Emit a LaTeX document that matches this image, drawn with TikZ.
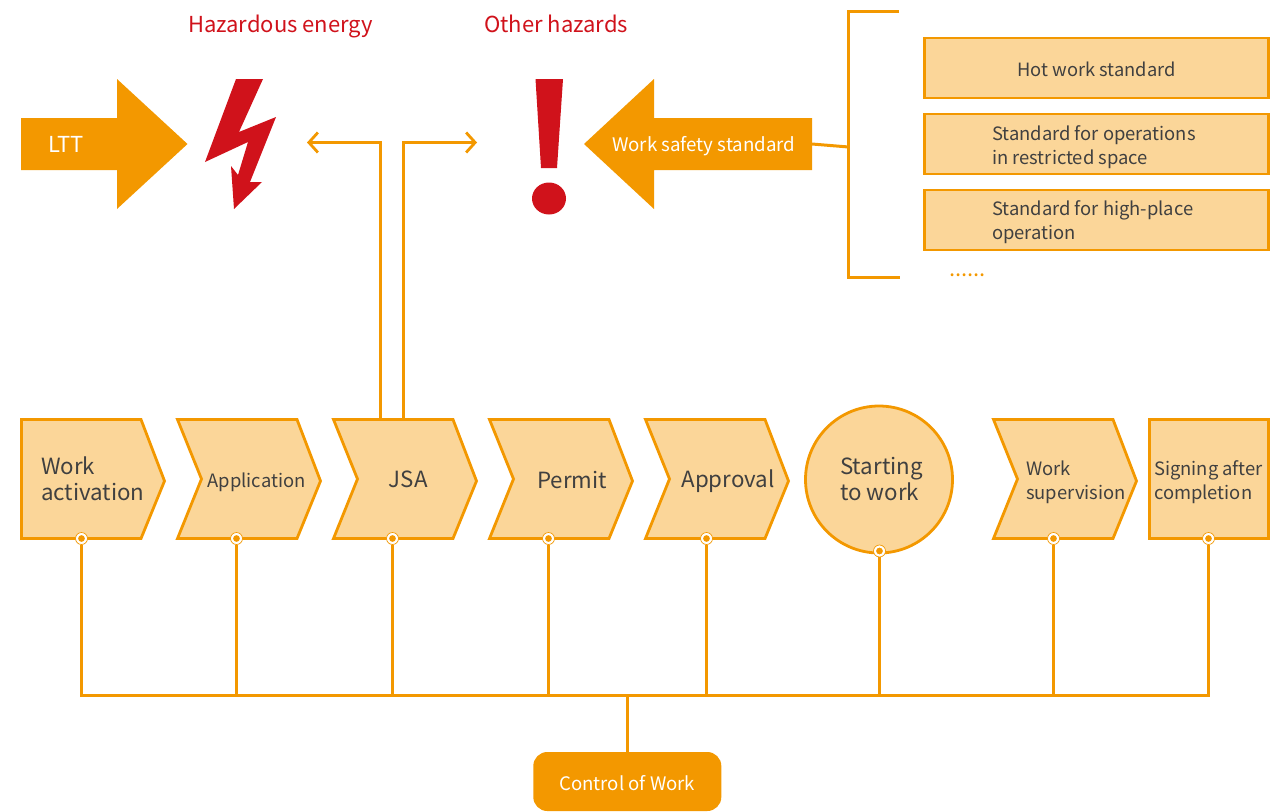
\documentclass[tikz,border=0pt]{standalone}
\usepackage{fontspec}
\setmainfont{Noto Sans CJK SC}
\usetikzlibrary{arrows.meta}
\definecolor{org}{HTML}{F39800}
\definecolor{pale}{HTML}{FBD699}
\definecolor{hazred}{HTML}{D0121B}
\definecolor{ink}{HTML}{404040}
\newcommand{\fs}[1]{\fontsize{#1}{#1}\selectfont}
\tikzset{
  lbl/.style={inner sep=0pt,text=ink,align=left,anchor=west},
  shapeb/.style={draw=org,fill=pale,line width=2.8pt,line join=miter},
  wire/.style={draw=org,line width=3pt},
  solid orange/.style={fill=org,draw=none},
  solid red/.style={fill=hazred,draw=none},
  joint/.style={circle,inner sep=0pt,minimum size=8.5pt,fill=org,draw=white,line width=1.4pt},
  ring/.style={circle,inner sep=0pt,minimum size=12pt,fill=white,draw=org,line width=0.7pt},
  barb/.style={-{Straight Barb[length=9pt,width=20pt,line width=2.8pt]}},
  stdbox/.style={rectangle,draw=org,fill=pale,line width=2.8pt,minimum width=344.5pt,minimum height=60pt,inner sep=0pt},
}
\begin{document}
\begin{tikzpicture}[x=1pt,y=-1pt]
\useasboundingbox (0,0) rectangle (1284,811);
% titles
\node[inner sep=0pt,text=hazred,font=\fs{22}] (hz) at (280.7,26.5) {Hazardous energy};
\node[inner sep=0pt,text=hazred,font=\fs{22}] (oh) at (556,24) {Other hazards};
% LTT arrow
\path[solid orange] (21,118)--(117,118)--(117,79)--(187.5,144)--(117,209)--(117,170)--(21,170)--cycle;
\node[inner sep=0pt,anchor=west,text=white,font=\fs{22}] (ltt) at (48,144) {LTT};
% bolt
\path[solid red] (236,79)--(263,79)--(239,132)--(276,117)--(250,182)--(262,182)--(234,209)--(231,166)--(238,175)--(248,142)--(205,162)--cycle;
% exclamation
\path[solid red] (535.5,79)--(563,79)--(557,168)--(541,168)--cycle;
\path[solid red] (549,198.5) ellipse [x radius=17,y radius=16];
% safety arrow
\path[solid orange] (812,118)--(654,118)--(654,79)--(584,144)--(654,209)--(654,170)--(812,170)--cycle;
\node[inner sep=0pt,text=white,font=\fs{18.7}] (wss) at (703.8,146) {Work safety standard};
% bracket
\coordinate (brt) at (899,11);
\coordinate (brb) at (900,277);
\coordinate (brm) at (848.5,147);
\coordinate (wssr) at (812,144);
\draw[wire] (brt) -- (848.5,11) -- (848.5,277) -- (brb);
\draw[wire] (wssr) -- (brm);
% standards
\node[stdbox] (b1) at (1096.5,68) {};
\node[stdbox] (b2) at (1096.5,144) {};
\node[stdbox] (b3) at (1096.5,220) {};
\node[inner sep=0pt,text=ink,font=\fs{18.3}] (t1) at (1096.5,69) {Hot work standard};
\node[lbl,font=\fontsize{18.4}{24}\selectfont] (t2) at (992,147) {Standard for operations\\in restricted space};
\node[lbl,font=\fontsize{18.4}{24}\selectfont] (t3) at (992,222) {Standard for high-place\\operation};
\node[inner sep=0pt,anchor=west,text=org,font=\fs{22}] (more) at (949,275.5) {......};
% process shapes
\draw[shapeb] (21.5,419.5)--(141,419.5)--(164.5,481)--(141,538.5)--(21.5,538.5)--cycle;
\foreach \x in {177.5,333.5,489.5,645.5,993.5}{
  \draw[shapeb] (\x,419.5)--(\x+119.5,419.5)--(\x+143,481)--(\x+119.5,538.5)--(\x,538.5)--(\x+24,479)--cycle;
}
\node[circle,draw=org,fill=pale,line width=2.8pt,minimum size=147pt,inner sep=0pt] (s6) at (879,479.5) {};
\node[rectangle,draw=org,fill=pale,line width=2.8pt,minimum width=119.5pt,minimum height=119pt,inner sep=0pt] (s8) at (1209,479) {};
% process labels
\node[lbl,font=\fontsize{22.3}{26}\selectfont] (s1) at (41,479) {Work\\activation};
\node[inner sep=0pt,text=ink,font=\fs{18.4}] (s2) at (256.5,482) {Application};
\node[inner sep=0pt,text=ink,font=\fs{22.3}] (s3) at (408.3,479) {JSA};
\node[inner sep=0pt,text=ink,font=\fs{22.3}] (s4) at (572,480) {Permit};
\node[inner sep=0pt,text=ink,font=\fs{22.3}] (s5) at (728,481) {Approval};
\node[lbl,font=\fontsize{22.3}{26}\selectfont] (s6t) at (840,479) {Starting\\to work};
\node[lbl,font=\fontsize{18.4}{24}\selectfont] (s7) at (1026,482) {Work\\supervision};
\node[lbl,font=\fontsize{18.4}{24}\selectfont] (s9) at (1154,482) {Signing after\\completion};
% JSA branches
\coordinate (jl) at (380.5,418);
\coordinate (jr) at (403.5,418);
\coordinate (al) at (307,142.5);
\coordinate (ar) at (477,142.5);
\draw[wire,barb] (jl) |- (al);
\draw[wire,barb] (jr) |- (ar);
% joints
\foreach \n/\x/\y in {1/81.5/538.5,2/236.5/538.5,3/392.5/538.5,4/548.5/538.5,5/706.5/538.5,6/879.5/551,7/1053.5/538.5,8/1208.5/538.5}{
  \coordinate (bus\n) at (\x,695.5);
  \node[ring] (r\n) at (\x,\y) {};
  \draw[wire] (r\n) -- (bus\n);
  \node[joint] (d\n) at (\x,\y) {};
}
\draw[wire,line cap=rect] (bus1) -- (bus8);
% control
\node[rectangle,rounded corners=14pt,fill=org,minimum width=188pt,minimum height=59pt,inner sep=0pt] (ctl) at (627.3,781.5) {};
\node[inner sep=0pt,text=white,font=\fs{18.6}] (ctlt) at (627.3,783.5) {Control of Work};
\draw[wire] (ctl.north) -- (ctl.north |- bus1);
\end{tikzpicture}
\end{document}
